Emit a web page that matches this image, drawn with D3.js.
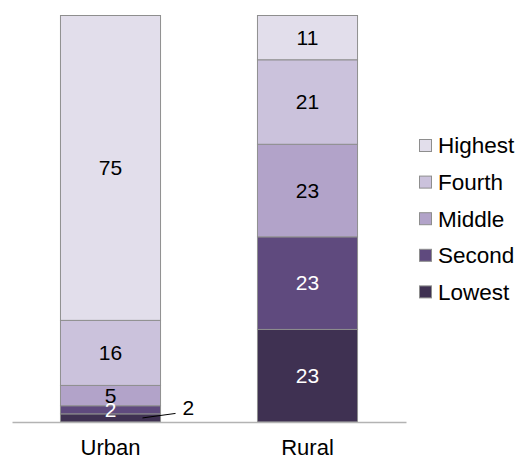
<!DOCTYPE html>
<html>
<head>
<meta charset="utf-8">
<script src="https://cdn.jsdelivr.net/npm/d3@7"></script>
<style>
  html, body { margin: 0; padding: 0; background: #fff; }
  svg { display: block; font-family: "Liberation Sans", Arial, sans-serif; }
</style>
</head>
<body>
<svg id="chart" width="520" height="460"></svg>
<script>
// ---- data ----
const categories = ["Urban", "Rural"];
const quintiles = ["Lowest", "Second", "Middle", "Fourth", "Highest"]; // bottom to top
const lowest  = [2, 23];
const second  = [2, 23];
const middle  = [5, 23];
const fourth  = [16, 21];
const highest = [75, 11];
const colors = ["#3f3152", "#5f4a7e", "#b2a3c9", "#cbc2dc", "#e2deeb"];
const labelColors = ["#ffffff", "#ffffff", "#000000", "#000000", "#000000"];
const outsideLabels = [["Urban", "Lowest"]];

const seriesValues = [lowest, second, middle, fourth, highest];
const rows = categories.map((c, i) => {
  const r = { category: c };
  quintiles.forEach((q, k) => { r[q] = seriesValues[k][i]; });
  return r;
});

const svg = d3.select("#chart");
const valueFont = 21;
const axisFont = 22;
const legendFont = 22.5;

const x = d3.scaleBand().domain(categories).range([12, 406])
  .paddingInner(0.492).paddingOuter(0.246);
const y = d3.scaleLinear().domain([0, 1]).range([422, 15.5]);
const color = d3.scaleOrdinal().domain(quintiles).range(colors);
const labelColor = d3.scaleOrdinal().domain(quintiles).range(labelColors);

const stacked = d3.stack().keys(quintiles).offset(d3.stackOffsetExpand)(rows);

const layers = svg.append("g").selectAll("g").data(stacked).join("g")
  .attr("fill", d => color(d.key));

layers.selectAll("rect").data(d => d.map(p => Object.assign(p, { key: d.key })))
  .join("rect")
  .attr("x", d => x(d.data.category))
  .attr("width", x.bandwidth())
  .attr("y", d => y(d[1]))
  .attr("height", d => y(d[0]) - y(d[1]))
  .attr("stroke", "#8e8e8e")
  .attr("stroke-width", 1);

// axis
const axis = svg.append("g").attr("transform", "translate(0,422)")
  .call(d3.axisBottom(x).tickSize(0).tickPadding(17.5));
axis.select(".domain").attr("stroke", "#b3b3b3").attr("stroke-width", 1.5);
axis.selectAll("text").attr("font-size", axisFont).attr("fill", "#000")
  .attr("font-family", "Liberation Sans, Arial, sans-serif");

// value labels
const isOutside = d => outsideLabels.some(o => o[0] === d.data.category && o[1] === d.key);
const labels = svg.append("g");
stacked.forEach(layer => {
  layer.forEach(d => {
    const cx = x(d.data.category) + x.bandwidth() / 2;
    const cy = (y(d[0]) + y(d[1])) / 2;
    const val = d.data[layer.key];
    if (isOutside(d)) {
      const right = x(d.data.category) + x.bandwidth();
      labels.append("line")
        .attr("x1", cx + 32).attr("y1", cy)
        .attr("x2", right + 15).attr("y2", cy - 4.5)
        .attr("stroke", "#000").attr("stroke-width", 1);
      labels.append("text")
        .attr("x", right + 22).attr("y", cy - 10)
        .attr("dy", "0.35em")
        .attr("font-size", valueFont).attr("fill", "#000")
        .text(val);
    } else {
      labels.append("text")
        .attr("x", cx).attr("y", cy)
        .attr("dy", "0.35em")
        .attr("text-anchor", "middle")
        .attr("font-size", valueFont)
        .attr("fill", labelColor(layer.key))
        .text(val);
    }
  });
});

// legend (top to bottom: Highest ... Lowest)
const legendOrder = quintiles.slice().reverse();
const legend = svg.append("g").attr("transform", "translate(419,145.5)");
const item = legend.selectAll("g").data(legendOrder).join("g")
  .attr("transform", (d, i) => `translate(0,${i * 36.6})`);
item.append("rect")
  .attr("x", 0.5).attr("y", -6)
  .attr("width", 12).attr("height", 12)
  .attr("fill", d => color(d))
  .attr("stroke", "#8e8e8e").attr("stroke-width", 1);
item.append("text")
  .attr("x", 19).attr("y", 0).attr("dy", "0.35em")
  .attr("font-size", legendFont).attr("fill", "#000")
  .text(d => d);
</script>
</body>
</html>
